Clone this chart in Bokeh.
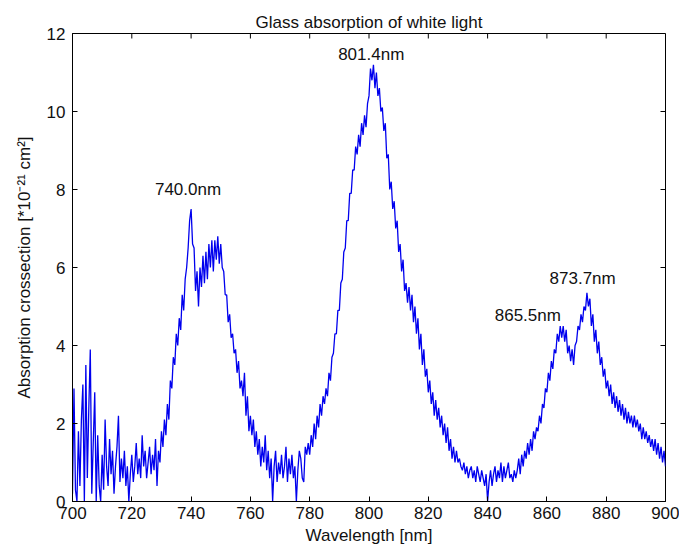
import numpy as np
from bokeh.plotting import figure
from bokeh.models import FixedTicker, Range1d
from bokeh.core.properties import value
from bokeh.embed import file_html
from bokeh.resources import INLINE

# Wavelength grid (nm), 0.5 nm steps from 700 to 900
wl_start = 700.0
wl_step = 0.5

# Absorption crossection [*10^-21 cm^2], 10 nm per block
a700 = [0.2, 2.9, 0.3, 0.0, 1.8, 0.4, 2.1, 3.0, 0.0, 3.5, 0.6, 2.4, 3.9, 0.2, 1.5, 2.8, 0.0, 1.7, 0.4, 0.0]
a710 = [1.2, 0.3, 2.1, 0.9, 0.4, 1.6, 0.7, 1.3, 0.2, 0.9, 1.4, 2.2, 0.5, 1.1, 0.6, 1.3, 0.4, 0.9, 0.0, 0.7]
a720 = [1.2, 0.5, 0.9, 1.5, 0.7, 1.1, 0.6, 1.7, 0.9, 1.3, 0.6, 1.0, 1.4, 0.7, 1.2, 0.8, 1.6, 0.4, 1.3, 1.0]
a730 = [1.8, 1.4, 2.1, 1.7, 2.5, 2.1, 3.1, 2.9, 3.7, 3.5, 4.3, 4.0, 4.7, 4.4, 5.3, 4.9, 5.7, 6.0, 6.5, 7.2]
a740 = [7.5, 6.6, 6.5, 5.4, 5.9, 5.0, 6.0, 5.5, 6.3, 5.6, 6.4, 5.7, 6.6, 6.0, 6.7, 5.9, 6.7, 6.2, 6.8, 6.1]
a750 = [6.6, 6.0, 5.9, 5.3, 5.3, 4.6, 4.8, 4.2, 4.3, 3.8, 3.9, 3.3, 3.6, 2.9, 3.1, 2.7, 3.3, 2.2, 2.7, 1.8]
a760 = [2.2, 1.7, 2.1, 1.4, 1.8, 1.2, 1.6, 0.9, 1.4, 1.0, 1.7, 0.8, 1.3, 0.6, 1.1, 0.0, 0.9, 1.3, 0.5, 1.0]
a770 = [0.7, 1.2, 0.6, 0.9, 1.4, 0.5, 1.1, 0.7, 1.2, 0.6, 0.9, 0.0, 0.8, 1.3, 1.1, 0.6, 0.5, 1.4, 1.2, 1.5]
a780 = [1.2, 1.7, 1.4, 2.0, 1.6, 2.2, 1.9, 2.5, 2.2, 2.7, 2.5, 2.9, 2.7, 3.3, 3.1, 3.7, 3.8, 4.3, 4.3, 4.9]
a790 = [4.9, 5.6, 5.7, 6.4, 6.5, 7.2, 7.2, 7.9, 7.9, 8.5, 8.5, 9.1, 8.9, 9.4, 9.1, 9.7, 9.4, 9.9, 9.6, 10.2]
a800 = [10.4, 11.1, 10.8, 11.2, 10.6, 11.0, 10.4, 10.6, 10.0, 10.1, 9.5, 9.7, 8.8, 8.9, 8.0, 8.2, 7.5, 7.7, 7.0, 7.2]
a810 = [6.4, 6.6, 5.9, 6.2, 5.4, 5.6, 5.1, 5.5, 4.9, 5.3, 4.6, 5.0, 4.3, 4.7, 3.9, 4.3, 3.5, 3.9, 3.2, 3.4]
a820 = [2.8, 3.1, 2.5, 2.8, 2.2, 2.6, 2.1, 2.4, 1.9, 2.2, 1.7, 2.0, 1.5, 1.9, 1.3, 1.6, 1.1, 1.4, 1.0, 1.3]
a830 = [1.0, 1.1, 0.9, 0.8, 1.0, 0.7, 0.9, 0.6, 0.8, 0.9, 0.6, 0.8, 0.5, 0.9, 0.7, 0.5, 0.8, 0.6, 0.4, 0.7]
a840 = [0.0, 0.5, 0.8, 0.4, 0.7, 0.9, 0.5, 0.8, 0.6, 1.0, 0.5, 0.9, 0.6, 0.8, 1.0, 0.6, 0.7, 0.5, 0.8, 0.6]
a850 = [0.8, 1.1, 0.7, 1.2, 0.9, 1.3, 1.1, 1.5, 1.2, 1.6, 1.3, 1.8, 1.6, 1.9, 1.8, 2.2, 2.0, 2.5, 2.4, 2.9]
a860 = [2.8, 3.3, 3.1, 3.6, 3.4, 3.9, 3.8, 4.3, 4.1, 4.5, 4.2, 4.5, 4.1, 4.4, 3.8, 4.0, 3.6, 3.9, 3.5, 4.0]
a870 = [4.1, 4.5, 4.4, 4.8, 4.6, 5.0, 4.9, 5.35, 5.0, 5.2, 4.5, 4.8, 4.1, 4.4, 3.8, 4.1, 3.5, 3.7, 3.2, 3.4]
a880 = [2.9, 3.1, 2.7, 3.0, 2.5, 2.8, 2.4, 2.7, 2.3, 2.6, 2.2, 2.5, 2.1, 2.4, 2.0, 2.3, 2.0, 2.2, 1.9, 2.2]
a890 = [1.9, 2.1, 1.8, 2.0, 1.6, 1.9, 1.6, 1.8, 1.5, 1.7, 1.4, 1.6, 1.3, 1.6, 1.2, 1.5, 1.1, 1.4, 1.0, 1.3, 0.9]

absorption = (a700 + a710 + a720 + a730 + a740 + a750 + a760 + a770 + a780 + a790
              + a800 + a810 + a820 + a830 + a840 + a850 + a860 + a870 + a880 + a890)
wavelength = [wl_start + i * wl_step for i in range(len(absorption))]

# Peak annotations
peak_labels = ["740.0nm", "801.4nm", "865.5nm", "873.7nm"]
peak_label_x = [727.8, 789.6, 842.4, 860.9]
peak_label_y = [8.0, 11.45, 4.76, 5.72]

x_ticks = [700, 720, 740, 760, 780, 800, 820, 840, 860, 880, 900]
y_ticks = [0, 2, 4, 6, 8, 10, 12]
x_min, x_max = 700, 900
y_min, y_max = 0, 12

FONT = "Liberation Sans"
FS = "17px"
TXT = "#111111"

p = figure(width=679, height=558, output_backend="svg", toolbar_location=None,
           x_range=Range1d(x_min, x_max), y_range=Range1d(y_min, y_max),
           min_border_left=72, min_border_right=14, min_border_top=33, min_border_bottom=57)

p.title.text = "Glass absorption of white light"
p.title.align = "center"
p.title.text_font = FONT
p.title.text_font_size = FS
p.title.text_font_style = "normal"
p.title.text_color = TXT
p.title.offset = 0
p.title.standoff = 4

p.line(wavelength, absorption, line_color="#0000ee", line_width=1.3)

p.text(x=peak_label_x, y=peak_label_y, text=peak_labels,
       text_font=value(FONT), text_font_size=FS, text_color=TXT,
       text_align="left", text_baseline="middle")

# inward ticks on the top and right edges of the box (MATLAB "box on")
p.ray(x=x_ticks, y=[y_max] * len(x_ticks), length=5, length_units="screen",
      angle=-np.pi / 2, line_color="black", line_width=1)
p.ray(x=[x_max] * len(y_ticks), y=y_ticks, length=5, length_units="screen",
      angle=np.pi, line_color="black", line_width=1)

p.grid.visible = False
p.outline_line_color = "black"
p.outline_line_width = 1
p.background_fill_color = "white"
p.border_fill_color = "white"

for ax in (p.xaxis[0], p.yaxis[0]):
    ax.major_tick_in = 5
    ax.major_tick_out = 0
    ax.minor_tick_in = 0
    ax.minor_tick_out = 0
    ax.axis_line_color = "black"
    ax.major_tick_line_color = "black"
    ax.major_label_text_font = FONT
    ax.major_label_text_font_size = FS
    ax.major_label_text_color = TXT
    ax.axis_label_text_font = FONT
    ax.axis_label_text_font_size = FS
    ax.axis_label_text_font_style = "normal"
    ax.axis_label_text_color = TXT

p.xaxis[0].ticker = FixedTicker(ticks=x_ticks)
p.yaxis[0].ticker = FixedTicker(ticks=y_ticks)
p.xaxis[0].axis_label = "Wavelength [nm]"
p.yaxis[0].axis_label = "Absorption crossection [*10\u207b\u00b2\u00b9 cm\u00b2]"
p.xaxis[0].major_label_standoff = 5
p.yaxis[0].major_label_standoff = 7
p.xaxis[0].axis_label_standoff = 4
p.yaxis[0].axis_label_standoff = 10

open("out.html", "w").write(file_html(p, INLINE))
